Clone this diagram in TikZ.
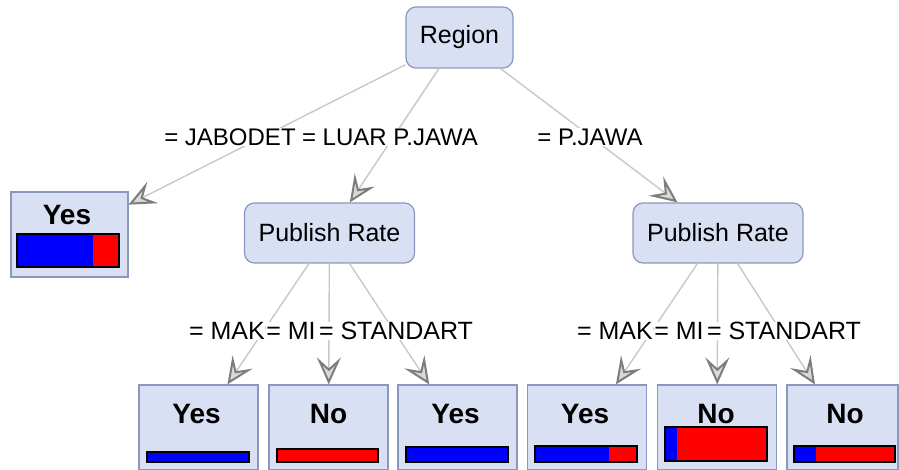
\documentclass[tikz,border=0pt]{standalone}
\usepackage{fontspec}
\setmainfont{Liberation Sans}
\usetikzlibrary{arrows.meta}
\definecolor{nodefill}{RGB}{218,224,243}
\definecolor{nodeline}{RGB}{138,152,192}
\definecolor{edgegray}{RGB}{200,200,200}
\definecolor{tipgray}{RGB}{125,125,125}
\tikzset{split/.style={draw=nodeline, fill=nodefill, line width=1.2pt,
  rounded corners=10pt, minimum width=170pt, minimum height=60pt,
  font=\fontsize{25}{30}\selectfont}}
\tikzset{leaf/.style={draw=nodeline, fill=nodefill, line width=1.2pt,
  minimum width=119pt, minimum height=85pt}}
\tikzset{leaftext/.style={anchor=base, font=\bfseries\fontsize{28}{32}\selectfont}}
\tikzset{edge/.style={draw=edgegray, line width=1.4pt,
  -{Stealth[length=27pt, width=24pt, inset=11pt, fill=black!15, color=tipgray, line width=2pt]}}}
\tikzset{cond/.style={fill=white, inner sep=0.5pt, font=\fontsize{25}{30}\selectfont}}
\newcommand{\leafbar}[5]{
	\fill[blue] (#1,#4) rectangle (#2,#5);
	\fill[red] (#2,#4) rectangle (#3,#5);
	\draw[line width=1.6pt] (#1,#4) rectangle (#3,#5);
}

\begin{document}
\begin{tikzpicture}[x=1pt, y=-1pt]
	\useasboundingbox (0,0) rectangle (899,470);
	
	\node[split, minimum width=107pt, minimum height=61pt] (region) at (459.5,37.5) {Region};
	\node[split] (rateL) at (329.5,233) {Publish Rate};
	\node[split] (rateR) at (718,233) {Publish Rate};
	
	\node[leaf, minimum width=117pt] (yesA) at (69.5,234.5) {};
	\node[leaf] (yesB) at (198.5,427.5) {};
	\node[leaf] (noB) at (328.5,427.5) {};
	\node[leaf] (yesC) at (457.5,427.5) {};
	\node[leaf] (yesD) at (587,427.5) {};
	\node[leaf] (noD) at (717,427.5) {};
	\node[leaf, minimum width=111pt] (noE) at (842.5,427.5) {};
	
	\node[leaftext] (yesAtxt) at (67,225) {Yes};
	\node[leaftext] (yesBtxt) at (196.5,423) {Yes};
	\node[leaftext] (noBtxt) at (328.5,423) {No};
	\node[leaftext] (yesCtxt) at (455.5,423) {Yes};
	\node[leaftext] (yesDtxt) at (585,423) {Yes};
	\node[leaftext] (noDtxt) at (716,423) {No};
	\node[leaftext] (noEtxt) at (845,423) {No};
	
	\leafbar{17}{93}{119}{234}{267}
	\leafbar{147}{249}{249}{452}{462}
	\leafbar{277}{277}{378}{449}{462}
	\leafbar{406}{508}{508}{447}{462}
	\leafbar{535}{609}{637}{446}{462}
	\leafbar{665}{677}{767}{427}{461}
	\leafbar{794}{816}{895}{446}{462}
	
	\draw[edge] (region) -- (yesA);
	\draw[edge] (region) -- (rateL);
	\draw[edge] (region) -- (rateR);
	
	\draw[edge] (rateL) -- (yesB);
	\draw[edge] (rateL) -- (noB);
	\draw[edge] (rateL) -- (yesC);
	
	\draw[edge] (rateR) -- (yesD);
	\draw[edge] (rateR) -- (noD);
	\draw[edge] (rateR) -- (noE);
	
	% edge conditions
	\node[cond, font=\fontsize{24}{28}\selectfont] (jabo) at (230,137) {= JABODET};
	\node[cond, font=\fontsize{24}{28}\selectfont] (luar) at (390,137) {= LUAR P.JAWA};
	\node[cond, font=\fontsize{24}{28}\selectfont] (jawa) at (590,137) {= P.JAWA};
	
	\node[cond] (makL) at (227,331) {= MAK};
	\node[cond] (miL) at (291,331) {= MI};
	\node[cond] (stdL) at (396,331) {= STANDART};
	
	\node[cond] (makR) at (615,331) {= MAK};
	\node[cond] (miR) at (679,331) {= MI};
	\node[cond] (stdR) at (784,331) {= STANDART};
\end{tikzpicture}
\end{document}
